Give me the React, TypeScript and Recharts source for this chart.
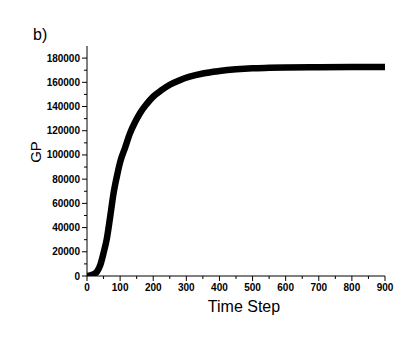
import React from 'react';
import { LineChart, Line, XAxis, YAxis } from 'recharts';

const timeSteps = [0, 10, 20, 30, 40, 50, 60, 70, 80, 90, 100, 115, 130, 145, 160, 180, 200, 225, 250, 280, 310, 350, 400, 450, 500, 550, 600, 700, 800, 900];
const gpValues = [0, 500, 1500, 3500, 9000, 19000, 31000, 49000, 68000, 82000, 94000, 106000, 118000, 127000, 134500, 142000, 148200, 153500, 158000, 161800, 164700, 167300, 169300, 170700, 171600, 172000, 172300, 172500, 172600, 172600];

const xTicks = [0, 50, 100, 150, 200, 250, 300, 350, 400, 450, 500, 550, 600, 650, 700, 750, 800, 850, 900];
const xLabelTicks = [0, 100, 200, 300, 400, 500, 600, 700, 800, 900];
const yTicks = [0, 10000, 20000, 30000, 40000, 50000, 60000, 70000, 80000, 90000, 100000, 110000, 120000, 130000, 140000, 150000, 160000, 170000, 180000];
const yLabelTicks = [0, 20000, 40000, 60000, 80000, 100000, 120000, 140000, 160000, 180000];

const panelLabel = 'b)';
const xTitle = 'Time Step';
const yTitle = 'GP';

const data = timeSteps.map((t, i) => ({ t, gp: gpValues[i] }));

const FONT = '"Liberation Sans", Arial, sans-serif';

const XTick = (props: any) => {
  const { x, y, payload } = props;
  const major = xLabelTicks.includes(payload.value);
  return (
    <g>
      <line x1={x} x2={x} y1={y} y2={y + (major ? 5 : 3)} stroke="#000" strokeWidth={1} />
      {major && (
        <text x={x} y={y + 15} textAnchor="middle" fontFamily={FONT} fontSize={10} fontWeight="bold" fill="#000">
          {payload.value}
        </text>
      )}
    </g>
  );
};

const YTick = (props: any) => {
  const { x, y, payload } = props;
  const major = yLabelTicks.includes(payload.value);
  return (
    <g>
      <line x1={x - (major ? 5 : 3)} x2={x} y1={y} y2={y} stroke="#000" strokeWidth={1} />
      {major && (
        <text x={x - 7} y={y + 3.5} textAnchor="end" fontFamily={FONT} fontSize={10} fontWeight="bold" fill="#000">
          {payload.value}
        </text>
      )}
    </g>
  );
};

export default function App() {
  return (
    <div style={{ position: 'absolute', left: 0, top: 0, width: 418, height: 338, background: '#fff' }}>
      <LineChart width={418} height={338} data={data} margin={{ top: 46, right: 33, bottom: 0, left: 0 }}>
        <XAxis
          dataKey="t"
          type="number"
          domain={[0, 900]}
          ticks={xTicks}
          interval={0}
          height={62}
          tickSize={0}
          tickMargin={0}
          tickLine={false}
          axisLine={{ stroke: '#000', strokeWidth: 1 }}
          tick={<XTick />}
          allowDataOverflow
        />
        <YAxis
          type="number"
          domain={[0, 190000]}
          ticks={yTicks}
          interval={0}
          width={87}
          tickSize={0}
          tickMargin={0}
          tickLine={false}
          axisLine={{ stroke: '#000', strokeWidth: 1 }}
          tick={<YTick />}
          allowDataOverflow
        />
        <Line
          type="monotone"
          dataKey="gp"
          stroke="#000"
          strokeWidth={6.5}
          dot={false}
          isAnimationActive={false}
        />
      </LineChart>
      <svg width={418} height={338} style={{ position: 'absolute', left: 0, top: 0, pointerEvents: 'none' }}>
        <text x={33} y={40} fontFamily={FONT} fontSize={16} fill="#000">{panelLabel}</text>
        <text
          x={41}
          y={152}
          transform="rotate(-90 41 152)"
          textAnchor="middle"
          fontFamily={FONT}
          fontSize={15}
          fill="#000"
        >
          {yTitle}
        </text>
        <text x={244} y={312} textAnchor="middle" fontFamily={FONT} fontSize={16} fill="#000">{xTitle}</text>
      </svg>
    </div>
  );
}
